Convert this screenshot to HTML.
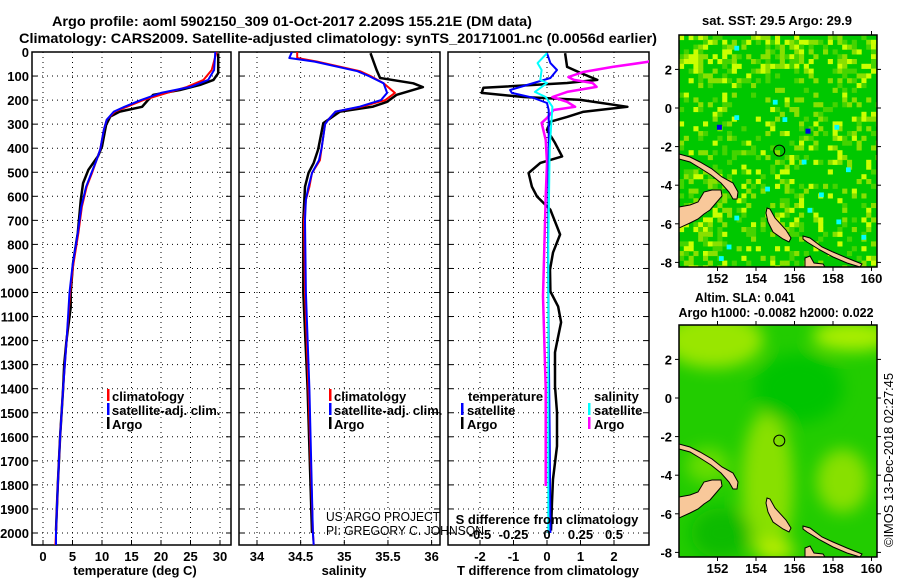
<!DOCTYPE html>
<html><head><meta charset="utf-8"><style>
html,body{margin:0;padding:0;background:#fff;}
svg{display:block;font-family:"Liberation Sans",Arial,sans-serif;}
.b{font-weight:bold;}
</style></head><body>
<svg id="fig" width="900" height="580" viewBox="0 0 900 580" xmlns="http://www.w3.org/2000/svg">
<rect width="900" height="580" fill="#fff"/>
<text x="292" y="26" class="b" font-size="14" text-anchor="middle" textLength="480" lengthAdjust="spacingAndGlyphs">Argo profile: aoml 5902150_309 01-Oct-2017 2.209S 155.21E (DM data)</text>
<text x="338" y="43" class="b" font-size="14" text-anchor="middle" textLength="638" lengthAdjust="spacingAndGlyphs">Climatology: CARS2009. Satellite-adjusted climatology: synTS_20171001.nc (0.0056d earlier)</text>
<g id="plots"></g>
<g id="maps"></g>
<text transform="translate(893,460) rotate(-90)" font-size="12.5" text-anchor="middle" textLength="174" lengthAdjust="spacingAndGlyphs">©IMOS 13-Dec-2018 02:27:45</text>
</svg>
<script>
// ---------- DATA ----------
const depthTicks = [0,100,200,300,400,500,600,700,800,900,1000,1100,1200,1300,1400,1500,1600,1700,1800,1900,2000];
const tempTicks = [0,5,10,15,20,25,30];
const salTicks = [34,34.5,35,35.5,36];
const salTickLabels = ["34","34.5","35","35.5","36"];
const dtTicks = [-2,-1,0,1,2];
const dsTicks = [-0.5,-0.25,0,0.25,0.5];
const dsTickLabels = ["-0.5","-0.25","0","0.25","0.5"];

const climTDepth = [0,75,116,145,170,200,228,248,282,324,406,448,503,560,643,752,890,1000,1200,1400,1600,1800,2000,2050];
const climTVal   = [29.4,28.6,27.2,24.4,21,17,14.2,12.2,10.8,10.3,9.7,9.1,8.3,7.4,6.6,6.0,5.1,4.6,4.0,3.4,2.9,2.5,2.2,2.1];
const satTVal    = [29.2,29.0,28.0,25.0,20.0,16.6,13.8,12.0,10.8,10.3,9.7,9.1,8.2,7.3,6.5,5.9,5.0,4.5,4.0,3.4,2.9,2.5,2.2,2.2];
const argoTDepth = [5,88,116,137,158,178,200,228,248,268,303,393,434,490,545,614,752,876,1000,1062,1195,1300,1400,1600,1800,1990];
const argoTVal   = [29.7,29.7,28.9,26.6,23.2,18.7,17.8,16.8,13.0,11.4,10.7,10.0,9.3,7.7,6.8,6.4,5.9,5.1,4.7,4.7,4.0,3.6,3.4,2.9,2.5,2.2];

const climSDepth = [0,25,40,80,100,130,170,200,227,248,280,300,400,450,503,560,614,700,1000,1400,2000,2050];
const climSVal   = [34.46,34.46,34.69,35.18,35.30,35.45,35.58,35.47,35.20,34.90,34.82,34.78,34.74,34.72,34.63,34.60,34.56,34.54,34.55,34.59,34.64,34.65];
const satSVal    = [34.40,34.37,34.66,35.15,35.28,35.45,35.49,35.42,35.18,34.90,34.82,34.78,34.74,34.71,34.63,34.59,34.56,34.55,34.56,34.60,34.64,34.65];
const argoSDepth = [5,75,108,130,146,178,207,227,248,296,406,461,503,560,700,1000,1400,2000];
const argoSVal   = [35.30,35.37,35.41,35.79,35.90,35.60,35.49,35.33,34.95,34.76,34.70,34.65,34.59,34.55,34.53,34.53,34.58,34.63];

const dTArgoDepth = [5,62,87,116,129,149,170,187,199,228,249,270,290,324,378,434,461,503,560,601,656,726,759,834,905,996,1058,1124,1207,1249,1390,1498,1639,1776,1871,1990];
const dTArgoVal   = [0.54,0.6,1.0,1.5,0.6,-1.9,-1.95,-0.7,1.0,2.4,1.07,0.6,0.1,0,0.24,0.45,-0.2,-0.55,-0.45,-0.3,0.1,0.3,0.39,0.18,0.09,0.1,0.33,0.42,0.3,0.24,0.24,0.3,0.3,0.18,0.15,0.12];
const dTSatDepth  = [5,46,75,108,129,158,170,191,212,241,400,800,1200,1600,2000];
const dTSatVal    = [0,0.1,0.3,0.1,-0.4,-1.1,-1.05,-0.4,0,0.05,0.05,0.03,0.05,0.08,0.1];
const dSSatDepth  = [5,46,75,116,129,166,187,228,400,800,1200,1600,2000];
const dSSatVal    = [0,-0.07,-0.04,-0.05,0,-0.09,-0.01,0.04,0.02,0.01,0.01,0.01,0.01];
const dSArgoDepth = [5,30,41,62,83,104,116,129,145,166,187,207,228,241,274,295,365,461,601,1016,1400,1805];
const dSArgoVal   = [1.0,0.8,0.75,0.49,0.27,0.16,0.2,0.34,0.37,0.15,0.04,0.15,0.21,0.05,0,-0.04,-0.01,0,-0.01,-0.03,-0.01,-0.01];

const lonTicks = [152,154,156,158,160];
const latTicks = [2,0,-2,-4,-6,-8];

// ---------- SCALES ----------
const TOP=52, BOT=545;
const yD = d => TOP + d*0.2405;
const xT = v => 43 + 5.9*v;
const xS = v => 257 + 87.3*(v-34);
const xDT = v => 547 + 33.5*v;
const xDS = v => 547 + 134*v;
const NS="http://www.w3.org/2000/svg";
function mk(tag, attrs, parent){const e=document.createElementNS(NS,tag);for(const k in attrs)e.setAttribute(k,attrs[k]);parent.appendChild(e);return e;}
const plots=document.getElementById('plots');

function panel(x0,x1,name,xticks,xfn,labels){
  const g=mk('g',{},plots);
  
  
  const c=mk('clipPath',{id:'c-'+name},g);
  mk('rect',{x:x0,y:TOP,width:x1-x0,height:BOT-TOP},c);
  depthTicks.forEach(d=>{
    const y=yD(d);
    const l=mk('line',{x1:x0,x2:x1,y1:y,y2:y,stroke:'#000','stroke-width':1,'stroke-dasharray':'1 4'},g);
    
    
    mk('line',{x1:x0,x2:x0+5,y1:y,y2:y,stroke:'#000'},g);
    mk('line',{x1:x1-5,x2:x1,y1:y,y2:y,stroke:'#000'},g);
  });
  xticks.forEach((v,i)=>{
    const x=xfn(v);
    const l=mk('line',{x1:x,x2:x,y1:TOP,y2:BOT,stroke:'#000','stroke-width':1,'stroke-dasharray':'1 4'},g);
    
    
    mk('line',{x1:x,x2:x,y1:BOT-5,y2:BOT,stroke:'#000'},g);
    if(labels){
      const t=mk('text',{x:x,y:561,'font-size':13,'font-weight':'bold','text-anchor':'middle'},g);
      t.textContent=labels[i];
      
      
    }
  });
  const f=mk('rect',{x:x0,y:TOP,width:x1-x0,height:BOT-TOP,fill:'none',stroke:'#000','stroke-width':1.5},g);
  
  
  return g;
}
function line(g,depths,vals,xfn,color,w,name,clipName){
  const pts=depths.map((d,i)=>xfn(vals[i]).toFixed(1)+','+yD(d).toFixed(1)).join(' ');
  const p=mk('polyline',{points:pts,fill:'none',stroke:color,'stroke-width':w,'stroke-linejoin':'round','clip-path':'url(#c-'+clipName+')'},g);
  
  
}
function txt(g,x,y,s,name,extra){
  const t=mk('text',Object.assign({x:x,y:y,'font-size':13,'font-weight':'bold'},extra||{}),g);
  t.textContent=s;
  
  
  return t;
}
function legBar(g,x,y,color,name){
  const r=mk('rect',{x:x,y:y-11,width:2.5,height:12,fill:color},g);
  
  
}

depthTicks.forEach(d=>{
  txt(plots,29,yD(d)+5,String(d),'y-tick-label',{'text-anchor':'end'});
});

const g1=panel(32,231,'temperature-panel',tempTicks,xT,tempTicks.map(String));
line(g1,argoTDepth,argoTVal,xT,'#000',2.5,'argo-temperature-line','temperature-panel');
line(g1,climTDepth,climTVal,xT,'#f00',2,'climatology-temperature-line','temperature-panel');
line(g1,climTDepth,satTVal,xT,'#00f',2,'satellite-temperature-line','temperature-panel');
txt(plots,135,575,'temperature (deg C)','x-axis-title-temperature',{'text-anchor':'middle'});
legBar(g1,107,400,'#f00','legend-climatology-swatch');txt(g1,112,401,'climatology','legend-climatology');
legBar(g1,107,414,'#00f','legend-satellite-swatch');txt(g1,112,415,'satellite-adj. clim.','legend-satellite');
legBar(g1,107,428,'#000','legend-argo-swatch');txt(g1,112,429,'Argo','legend-argo');

const g2=panel(239,440,'salinity-panel',salTicks,xS,salTickLabels);
line(g2,argoSDepth,argoSVal,xS,'#000',2.5,'argo-salinity-line','salinity-panel');
line(g2,climSDepth,climSVal,xS,'#f00',2,'climatology-salinity-line','salinity-panel');
line(g2,climSDepth,satSVal,xS,'#00f',2,'satellite-salinity-line','salinity-panel');
txt(plots,344,575,'salinity','x-axis-title-salinity',{'text-anchor':'middle'});
legBar(g2,329,400,'#f00','legend-climatology-swatch');txt(g2,334,401,'climatology','legend-climatology');
legBar(g2,329,414,'#00f','legend-satellite-swatch');txt(g2,334,415,'satellite-adj. clim.','legend-satellite');
legBar(g2,329,428,'#000','legend-argo-swatch');txt(g2,334,429,'Argo','legend-argo');
txt(plots,326,521,'US ARGO PROJECT','credit-project',{'font-weight':'normal','font-size':12.5,textLength:114,lengthAdjust:'spacingAndGlyphs'});
txt(plots,326,535,'PI: GREGORY C. JOHNSON','credit-pi',{'font-weight':'normal','font-size':12.5,textLength:158,lengthAdjust:'spacingAndGlyphs'});

const g3=panel(448,649,'difference-panel',dtTicks,xDT,dtTicks.map(String));
line(g3,dTArgoDepth,dTArgoVal,xDT,'#000',2.5,'argo-temperature-difference-line','difference-panel');
line(g3,dSArgoDepth,dSArgoVal,xDS,'#f0f',2.5,'argo-salinity-difference-line','difference-panel');
line(g3,dTSatDepth,dTSatVal,xDT,'#00f',2,'satellite-temperature-difference-line','difference-panel');
line(g3,dSSatDepth,dSSatVal,xDS,'#0ff',2,'satellite-salinity-difference-line','difference-panel');
dsTicks.forEach((v,i)=>{txt(g3,xDS(v),539,dsTickLabels[i],'s-tick-label',{'text-anchor':'middle'});});
txt(g3,547,524,'S difference from climatology','s-axis-title',{'text-anchor':'middle'});
txt(plots,548,575,'T difference from climatology','x-axis-title-t-difference',{'text-anchor':'middle'});
txt(g3,468,401,'temperature','legend-temperature-header');
legBar(g3,461,414,'#00f','legend-t-satellite-swatch');txt(g3,467,415,'satellite','legend-t-satellite');
legBar(g3,461,428,'#000','legend-t-argo-swatch');txt(g3,467,429,'Argo','legend-t-argo');
txt(g3,594,401,'salinity','legend-salinity-header');
legBar(g3,588,414,'#0ff','legend-s-satellite-swatch');txt(g3,594,415,'satellite','legend-s-satellite');
legBar(g3,588,428,'#f0f','legend-s-argo-swatch');txt(g3,594,429,'Argo','legend-s-argo');

// ---------- MAPS ----------
const maps=document.getElementById('maps');
const MX0=679,MX1=877;
const lonX = lon => MX0 + (lon-150)*19.25;
const landPolys=[
 "679,154 690,157 700,162 712,169 722,177 733,183 738,192 737,199 733,199 729,192 721,183 711,175 700,168 690,162 679,159",
 "679,207 690,205 698,202 704,192 712,190 721,190 722,196 716,203 710,210 704,214 698,219 690,223 679,228",
 "767,208 770,209 775,218 786,230 791,238 789,242 783,239 773,232 768,222 766,213",
 "803,236 810,238 822,247 833,252 847,258 862,264 860,267 847,263 833,257 820,250 807,242 803,239",
 "805,258 810,256 814,263 823,264 825,267 805,267"
];
function hash(i,j){let h=(i*374761393+j*668265263)>>>0;h=((h^(h>>>13))*1274126177)>>>0;return ((h^(h>>>16))>>>0)/4294967295;}
function drawMap(yOff,name,kind){
  const g=mk('g',{},maps);
  
  
  const top=35+yOff, bot=267+yOff, y0=108+yOff;
  const latY = lat => y0 - lat*19.3;
  const cp=mk('clipPath',{id:'cp-'+name},g);
  mk('rect',{x:MX0,y:top,width:MX1-MX0,height:bot-top},cp);
  const inner=mk('g',{'clip-path':'url(#cp-'+name+')'},g);
  if(kind==='sst'){
    mk('rect',{x:MX0,y:top,width:MX1-MX0,height:bot-top,fill:'#00c800'},inner);
    const cs=4.8;
    for(let j=0;j*cs<bot-top;j++){for(let i=0;i*cs<MX1-MX0;i++){
      const x=MX0+i*cs,y=top+j*cs;
      let p=0.22;
      if(y<yOff+80) p=0.45;
      if(x<725&&y>yOff+165) p=0.5;
      if(x>750&&x<800&&y>yOff+180&&y<yOff+235) p=0.45;
      if(x>800&&y>yOff+100&&y<yOff+150) p=0.35;
      const r=hash(i,j);
      let col=null;
      if(r<p*0.3) col='#ccff00'; else if(r<p*0.65) col='#88e000'; else if(r<p) col='#44d400';
      if(col){mk('rect',{x:x,y:y,width:cs+0.3,height:cs+0.3,fill:col},inner);}
    }}
    [[156.7,-1.2],[152.1,-1.0]].forEach(p=>mk('rect',{x:lonX(p[0])-2.5,y:latY(p[1])-2.5,width:5,height:5,fill:'#0000e0'},inner));
    [[153,-0.5],[155.5,-0.6],[156.5,-2.8],[157.4,-4.5],[158.8,-3.2],[153,-5.7],[152.6,-7.2],[154.6,-4.2],[155,0.3],[153,3.1],[156.8,-5.3],[158.3,-5.9],[159.6,-6.7],[152.2,-7.8],[158.2,-1.0]].forEach(p=>{
      mk('rect',{x:lonX(p[0])-2.4,y:latY(p[1])-2.4,width:4.8,height:4.8,fill:'#00ffff'},inner);
    });
  } else {
    const f=mk('filter',{id:'blur-'+name,x:'-50%',y:'-50%',width:'200%',height:'200%'},g);
    mk('feGaussianBlur',{stdDeviation:8},f);
    mk('rect',{x:MX0,y:top,width:MX1-MX0,height:bot-top,fill:'#22cc00'},inner);
    const bg=mk('g',{filter:'url(#blur-'+name+')'},inner);
    mk('ellipse',{cx:lonX(151.8),cy:latY(3),rx:50,ry:28,fill:'#99e600'},bg);
    mk('ellipse',{cx:lonX(159),cy:latY(3.2),rx:40,ry:15,fill:'#aaee00'},bg);
    mk('ellipse',{cx:lonX(154.6),cy:latY(-4.5),rx:26,ry:75,fill:'#88e000'},bg);
    mk('ellipse',{cx:lonX(158.5),cy:latY(-4.3),rx:26,ry:32,fill:'#88e000'},bg);
    mk('ellipse',{cx:lonX(151.5),cy:latY(-3.5),rx:22,ry:18,fill:'#66dd00'},bg);
    mk('ellipse',{cx:lonX(152.2),cy:latY(-7),rx:30,ry:25,fill:'#11bb00'},bg);
    mk('ellipse',{cx:lonX(156.2),cy:latY(0.5),rx:45,ry:35,fill:'#00c400'},bg);
    mk('ellipse',{cx:lonX(155),cy:latY(-7.9),rx:20,ry:10,fill:'#bbee00'},bg);
  }
  const lg=mk('g',{transform:'translate(0,'+yOff+')'},inner);
  landPolys.forEach(p=>{
    const l=mk('polygon',{points:p,fill:'#f8c89a',stroke:'#000','stroke-width':1},lg);
    
    
  });
  const cir=mk('circle',{cx:lonX(155.21),cy:latY(-2.209),r:5.5,fill:'none',stroke:'#000','stroke-width':1},g);
  
  
  const fr=mk('rect',{x:MX0,y:top,width:MX1-MX0,height:bot-top,fill:'none',stroke:'#000','stroke-width':1.5},g);
  
  
  lonTicks.forEach(v=>{
    const x=lonX(v);
    mk('line',{x1:x,x2:x,y1:top-4,y2:top,stroke:'#000'},g);
    mk('line',{x1:x,x2:x,y1:bot,y2:bot+4,stroke:'#000'},g);
    txt(g,x,bot+16,String(v),'lon-tick-label',{'text-anchor':'middle'});
  });
  latTicks.forEach(v=>{
    const y=latY(v);
    mk('line',{x1:MX0-4,x2:MX0,y1:y,y2:y,stroke:'#000'},g);
    mk('line',{x1:MX1,x2:MX1+4,y1:y,y2:y,stroke:'#000'},g);
    txt(g,672,y+5,String(v),'lat-tick-label',{'text-anchor':'end'});
  });
}
drawMap(0,'sst-map','sst');
drawMap(290,'sla-map','sla');
txt(maps,777,25,'sat. SST: 29.5 Argo: 29.9','sst-map-title',{'text-anchor':'middle',textLength:150,lengthAdjust:'spacingAndGlyphs'});
txt(maps,745,302,'Altim. SLA: 0.041','sla-map-title',{'text-anchor':'middle',textLength:100,lengthAdjust:'spacingAndGlyphs'});
txt(maps,776,317,'Argo h1000: -0.0082 h2000: 0.022','sla-map-subtitle',{'text-anchor':'middle',textLength:195,lengthAdjust:'spacingAndGlyphs'});
</script>
</body></html>
